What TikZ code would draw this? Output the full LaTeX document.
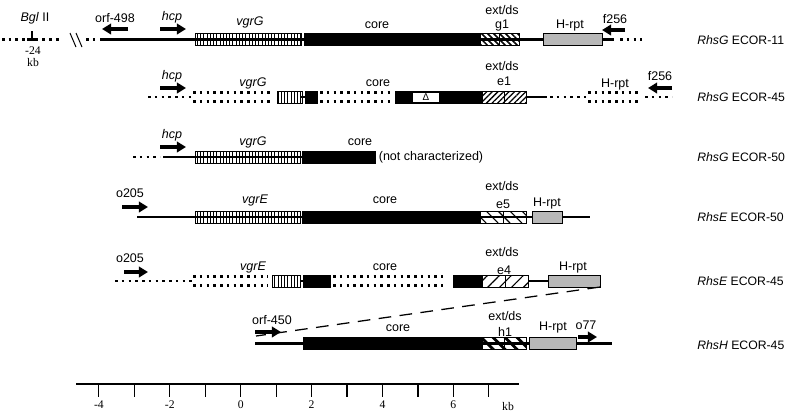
\documentclass[tikz,border=0pt]{standalone}
\usepackage{fontspec}
\setmainfont{Liberation Sans}
\newfontfamily\scalefont{Liberation Serif}
\usetikzlibrary{arrows.meta,patterns.meta}
\tikzset{
  seq/.style={line width=1.6pt},
  gap/.style={line width=1.8pt,dash pattern=on 1.8pt off 3pt},
  rim/.style={draw,line width=0.65pt},
  vgr/.style={rim,pattern={Lines[angle=90,distance=2.3pt,line width=0.6pt]}},
  core/.style={rim,fill=black},
  hrpt/.style={rim,fill=black!28},
  ext g1/.style={pattern={Lines[angle=-45,distance=3pt,line width=1.1pt]}},
  ext e1/.style={pattern={Lines[angle=45,distance=2.8pt,line width=0.9pt]}},
  ext e5/.style={pattern={Lines[angle=-45,distance=6pt,line width=0.8pt]}},
  ext e4/.style={pattern={Lines[angle=45,distance=6pt,line width=0.8pt]}},
  ext h1/.style={pattern={Lines[angle=-45,distance=6pt,line width=2pt]}},
  primer/.style={line width=2.2pt,-{Triangle[length=6.5pt,width=7.5pt]}},
  link/.style={line width=0.9pt,dash pattern=on 9pt off 6pt},
  tick/.style={line width=0.8pt},
  lbl/.style={font=\fontsize{8.9}{10}\selectfont,inner sep=0pt},
  gene/.style={lbl,font=\fontsize{8.9}{10}\selectfont\itshape},
  strain/.style={font=\fontsize{8.7}{10}\selectfont,inner sep=0pt,anchor=west},
  scale lbl/.style={font=\scalefont\fontsize{8.3}{9}\selectfont,inner sep=0pt},
  delta box/.style={fill=white,inner sep=0pt,minimum width=0.65cm,minimum height=0.22cm,
    font=\fontsize{7}{7}\selectfont},
}
% gene segments: style, left, right, row
\newcommand\genebox[4]{\draw[#1] (#2,#4-6) rectangle (#3,#4+6);}
\newcommand\dsbox[4]{%
  \path[#1] (#2,#4-6) rectangle (#3,#4+6);
  \draw[rim] (#2,#4-6) rectangle (#3,#4+6) ({(#2+#3)/2},#4-6) -- ({(#2+#3)/2},#4+6);}
\newcommand\twogap[3]{\draw[gap] (#1,#3-4.5) -- (#2,#3-4.5) (#1,#3+4.5) -- (#2,#3+4.5);}

\begin{document}
\begin{tikzpicture}[x=0.025cm,y=-0.025cm]
\useasboundingbox (0,0) rectangle (800,417);
% RhsG ECOR-11
\draw[gap] (2,39.5) -- (62,39.5);
\draw[gap] (86,39.5) -- (98,39.5);
\draw[seq] (27,39.5) -- (37,39.5);
\draw[tick] (32,31) -- (32,39.5);
\draw[line width=0.7pt] (70,33) -- (76,47) (76,33) -- (82,47);
\draw[seq] (100,39.5) -- (614,39.5);
\draw[gap] (620,39.5) -- (642,39.5);
\genebox{vgr}{195}{301}{39.5}
\genebox{core}{304}{480}{39.5}
\dsbox{ext g1}{480}{519}{39.5}
\genebox{hrpt}{543}{602}{39.5}
\draw[primer] (128,29) -- (102,29);
\draw[primer] (160,29) -- (186,29);
\draw[primer] (625,30) -- (602,30);
\node[lbl] (bgl) at (35,18) {\textit{Bgl} II};
\node[scale lbl] (bglpos) at (33,51) {-24};
\node[scale lbl] (bglkb) at (33,63) {kb};
\node[lbl] (orf498) at (115,18) {orf-498};
\node[gene] (hcp1) at (172,17) {hcp};
\node[gene] (vgrG1) at (250,22) {vgrG};
\node[lbl] (core1) at (377,25) {core};
\node[lbl] (ext1) at (502,10) {ext/ds};
\node[lbl] (g1) at (502,25) {g1};
\node[lbl] (hrpt1) at (570,25) {H-rpt};
\node[lbl] (f256a) at (615,19) {f256};
\node[strain] (rhsG11) at (697,40) {\textit{RhsG} ECOR-11};
% RhsG ECOR-45
\draw[gap] (148,97) -- (193,97);
\twogap{193}{272}{97}
\draw[seq] (300,97) -- (306,97);
\genebox{vgr}{277}{302}{97}
\genebox{core}{305}{317}{97}
\twogap{320}{391}{97}
\genebox{core}{395}{482}{97}
\node[delta box] (del) at (426,97.5) {Δ};
\dsbox{ext e1}{482}{526}{97}
\draw[seq] (526,97) -- (547,97);
\draw[gap] (550,97) -- (587,97);
\twogap{588}{640}{97}
\draw[gap] (645,97) -- (672,97);
\draw[primer] (160,88) -- (186,88);
\draw[primer] (672,88) -- (648,88);
\node[gene] (hcp2) at (172,76) {hcp};
\node[gene] (vgrG2) at (253,83) {vgrG};
\node[lbl] (core2) at (378,83) {core};
\node[lbl] (ext2) at (502,66) {ext/ds};
\node[lbl] (e1) at (504,81) {e1};
\node[lbl] (hrpt2) at (615,84) {H-rpt};
\node[lbl] (f256b) at (660,76) {f256};
\node[strain] (rhsG45) at (697,97) {\textit{RhsG} ECOR-45};
% RhsG ECOR-50
\draw[gap] (133,157) -- (160,157);
\draw[seq] (163,157) -- (302,157);
\genebox{vgr}{195}{300}{157}
\genebox{core}{302}{375}{157}
\draw[primer] (160,147) -- (186,147);
\node[gene] (hcp3) at (172,135) {hcp};
\node[gene] (vgrG3) at (253,142) {vgrG};
\node[lbl] (core3) at (360,142) {core};
\node[lbl] (notch) at (431,157) {(not characterized)};
\node[strain] (rhsG50) at (697,157) {\textit{RhsG} ECOR-50};
% RhsE ECOR-50
\draw[seq] (137,217) -- (590,217);
\genebox{vgr}{195}{300}{217}
\genebox{core}{302}{480}{217}
\dsbox{ext e5}{480}{526}{217}
\genebox{hrpt}{532}{562}{217}
\draw[primer] (122,207) -- (148,207);
\node[lbl] (o205a) at (130,193) {o205};
\node[gene] (vgrE4) at (255,200) {vgrE};
\node[lbl] (core4) at (385,200) {core};
\node[lbl] (ext4) at (502,186) {ext/ds};
\node[lbl] (e5) at (503,204) {e5};
\node[lbl] (hrpt4) at (547,203) {H-rpt};
\node[strain] (rhsE50) at (697,217) {\textit{RhsE} ECOR-50};
% RhsE ECOR-45
\draw[gap] (115,281) -- (193,281);
\twogap{193}{268}{281}
\draw[seq] (300,281) -- (304,281);
\genebox{vgr}{272}{300}{281}
\genebox{core}{303}{330}{281}
\twogap{333}{443}{281}
\genebox{core}{453}{482}{281}
\dsbox{ext e4}{482}{528}{281}
\draw[seq] (528,281) -- (548,281);
\genebox{hrpt}{548}{600}{281}
\draw[primer] (124,272) -- (148,272);
\node[lbl] (o205b) at (130,258) {o205};
\node[gene] (vgrE5) at (253,267) {vgrE};
\node[lbl] (core5) at (385,267) {core};
\node[lbl] (ext5) at (502,252) {ext/ds};
\node[lbl] (e4) at (504,270) {e4};
\node[lbl] (hrpt5) at (573,267) {H-rpt};
\node[strain] (rhsE45) at (697,281) {\textit{RhsE} ECOR-45};
% RhsH ECOR-45
\coordinate (hend5) at (600,287);
\coordinate (hstart6) at (256,336);
\draw[link] (hend5) -- (hstart6);
\draw[seq] (255,343.5) -- (612,343.5);
\genebox{core}{303}{482}{343.5}
\dsbox{ext h1}{482}{526}{343.5}
\genebox{hrpt}{529}{576}{343.5}
\draw[primer] (255,332) -- (281,332);
\draw[primer] (578,337) -- (597,337);
\node[lbl] (orf450) at (272,320) {orf-450};
\node[lbl] (core6) at (398,328) {core};
\node[lbl] (ext6) at (505,316) {ext/ds};
\node[lbl] (h1) at (505,332) {h1};
\node[lbl] (hrpt6) at (553,327) {H-rpt};
\node[lbl] (o77) at (586,325) {o77};
\node[strain] (rhsH45) at (697,345) {\textit{RhsH} ECOR-45};
% scale
\draw[tick] (76,384) -- (519,384);
\foreach \k in {-4,...,7}
  \draw[tick] ({240.7+35.45*\k},384) -- ({240.7+35.45*\k},397);
\foreach \k in {-4,-2,...,6}
  \node[scale lbl] (kb\k) at ({240.7+35.45*\k},405) {\k};
\node[scale lbl] (kbunit) at (508,406) {kb};
\end{tikzpicture}
\end{document}
